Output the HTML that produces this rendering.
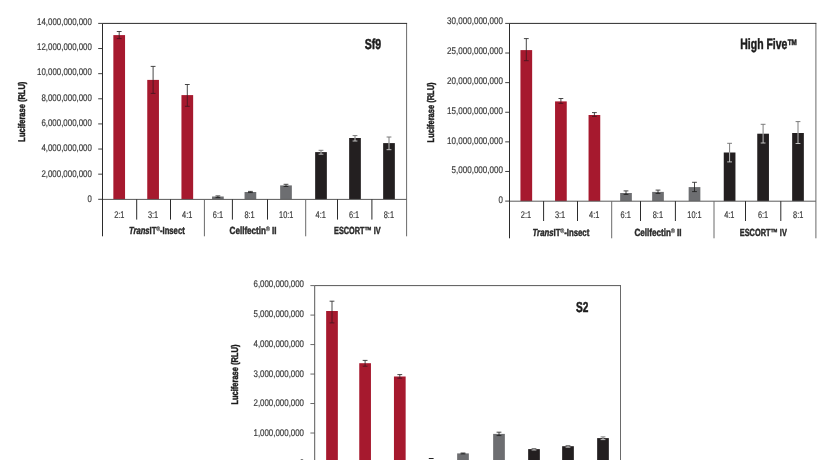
<!DOCTYPE html>
<html><head><meta charset="utf-8"><title>Luciferase charts</title>
<style>html,body{margin:0;padding:0;background:#fff;overflow:hidden}svg{display:block;font-family:"Liberation Sans", sans-serif;text-rendering:geometricPrecision}</style>
</head><body>
<svg width="831" height="460" viewBox="0 0 831 460">
<rect width="831" height="460" fill="#fff"/>
<rect x="113.35" y="35.10" width="11.7" height="164.20" fill="#a6192e"/>
<path d="M119.20 31.50V35.10M116.80 31.50H121.60" stroke="#333" stroke-width="0.9" fill="none"/>
<path d="M119.20 35.10V38.60M116.80 38.60H121.60" stroke="#4a1620" stroke-width="0.9" fill="none"/>
<rect x="147.25" y="79.90" width="11.7" height="119.40" fill="#a6192e"/>
<path d="M153.10 66.40V79.90M150.70 66.40H155.50" stroke="#333" stroke-width="0.9" fill="none"/>
<path d="M153.10 79.90V93.40M150.70 93.40H155.50" stroke="#4a1620" stroke-width="0.9" fill="none"/>
<rect x="181.45" y="95.10" width="11.7" height="104.20" fill="#a6192e"/>
<path d="M187.30 84.50V95.10M184.90 84.50H189.70" stroke="#333" stroke-width="0.9" fill="none"/>
<path d="M187.30 95.10V106.30M184.90 106.30H189.70" stroke="#4a1620" stroke-width="0.9" fill="none"/>
<rect x="212.05" y="196.50" width="11.7" height="2.80" fill="#6d6e71"/>
<path d="M217.90 195.90V196.50M215.50 195.90H220.30" stroke="#333" stroke-width="0.9" fill="none"/>
<path d="M217.90 196.50V197.60M215.50 197.60H220.30" stroke="#222" stroke-width="0.9" fill="none"/>
<rect x="244.55" y="192.00" width="11.7" height="7.30" fill="#6d6e71"/>
<path d="M250.40 191.40V192.00M248.00 191.40H252.80" stroke="#333" stroke-width="0.9" fill="none"/>
<path d="M250.40 192.00V192.60M248.00 192.60H252.80" stroke="#222" stroke-width="0.9" fill="none"/>
<rect x="280.15" y="185.40" width="11.7" height="13.90" fill="#6d6e71"/>
<path d="M286.00 184.30V185.40M283.60 184.30H288.40" stroke="#333" stroke-width="0.9" fill="none"/>
<path d="M286.00 185.40V186.50M283.60 186.50H288.40" stroke="#222" stroke-width="0.9" fill="none"/>
<rect x="315.15" y="152.10" width="11.7" height="47.20" fill="#231f20"/>
<path d="M321.00 150.30V152.10M318.60 150.30H323.40" stroke="#6e6e6e" stroke-width="0.9" fill="none"/>
<path d="M321.00 152.10V154.20M318.60 154.20H323.40" stroke="#d0d0d0" stroke-width="0.9" fill="none"/>
<rect x="349.15" y="138.00" width="11.7" height="61.30" fill="#231f20"/>
<path d="M355.00 135.60V138.00M352.60 135.60H357.40" stroke="#6e6e6e" stroke-width="0.9" fill="none"/>
<path d="M355.00 138.00V141.00M352.60 141.00H357.40" stroke="#d0d0d0" stroke-width="0.9" fill="none"/>
<rect x="383.15" y="143.10" width="11.7" height="56.20" fill="#231f20"/>
<path d="M389.00 137.00V143.10M386.60 137.00H391.40" stroke="#6e6e6e" stroke-width="0.9" fill="none"/>
<path d="M389.00 143.10V149.70M386.60 149.70H391.40" stroke="#d0d0d0" stroke-width="0.9" fill="none"/>
<path d="M406.60 23.40V236.30" stroke="#6a6a6a" stroke-width="1" fill="none"/>
<path d="M102.50 199.40H406.60" stroke="#5a5a5a" stroke-width="1" fill="none"/>
<path d="M407.10 23.40H102.50V236.30" stroke="#2b2b2b" stroke-width="1" fill="none"/>
<path d="M98.20 23.40H102.50" stroke="#2b2b2b" stroke-width="0.9"/>
<text x="91.90" y="24.55" font-size="9.7" text-anchor="end" font-weight="normal" fill="#3c3c3c" stroke="#3c3c3c" stroke-width="0.2" textLength="54.80" lengthAdjust="spacingAndGlyphs">14,000,000,000</text>
<path d="M98.20 48.53H102.50" stroke="#2b2b2b" stroke-width="0.9"/>
<text x="91.90" y="49.88" font-size="9.7" text-anchor="end" font-weight="normal" fill="#3c3c3c" stroke="#3c3c3c" stroke-width="0.2" textLength="54.80" lengthAdjust="spacingAndGlyphs">12,000,000,000</text>
<path d="M98.20 73.66H102.50" stroke="#2b2b2b" stroke-width="0.9"/>
<text x="91.90" y="75.21" font-size="9.7" text-anchor="end" font-weight="normal" fill="#3c3c3c" stroke="#3c3c3c" stroke-width="0.2" textLength="54.80" lengthAdjust="spacingAndGlyphs">10,000,000,000</text>
<path d="M98.20 98.79H102.50" stroke="#2b2b2b" stroke-width="0.9"/>
<text x="91.90" y="100.54" font-size="9.7" text-anchor="end" font-weight="normal" fill="#3c3c3c" stroke="#3c3c3c" stroke-width="0.2" textLength="50.50" lengthAdjust="spacingAndGlyphs">8,000,000,000</text>
<path d="M98.20 123.91H102.50" stroke="#2b2b2b" stroke-width="0.9"/>
<text x="91.90" y="125.87" font-size="9.7" text-anchor="end" font-weight="normal" fill="#3c3c3c" stroke="#3c3c3c" stroke-width="0.2" textLength="50.50" lengthAdjust="spacingAndGlyphs">6,000,000,000</text>
<path d="M98.20 149.04H102.50" stroke="#2b2b2b" stroke-width="0.9"/>
<text x="91.90" y="151.20" font-size="9.7" text-anchor="end" font-weight="normal" fill="#3c3c3c" stroke="#3c3c3c" stroke-width="0.2" textLength="50.50" lengthAdjust="spacingAndGlyphs">4,000,000,000</text>
<path d="M98.20 174.17H102.50" stroke="#2b2b2b" stroke-width="0.9"/>
<text x="91.90" y="176.53" font-size="9.7" text-anchor="end" font-weight="normal" fill="#3c3c3c" stroke="#3c3c3c" stroke-width="0.2" textLength="50.50" lengthAdjust="spacingAndGlyphs">2,000,000,000</text>
<path d="M98.20 199.30H102.50" stroke="#2b2b2b" stroke-width="0.9"/>
<text x="91.90" y="201.86" font-size="9.7" text-anchor="end" font-weight="normal" fill="#3c3c3c" stroke="#3c3c3c" stroke-width="0.2" textLength="4.30" lengthAdjust="spacingAndGlyphs">0</text>
<path d="M136.70 199.30V219.60" stroke="#2b2b2b" stroke-width="1"/>
<path d="M170.50 199.30V219.60" stroke="#2b2b2b" stroke-width="1"/>
<path d="M204.40 199.30V236.30" stroke="#6a6a6a" stroke-width="1"/>
<path d="M232.40 199.30V219.60" stroke="#2b2b2b" stroke-width="1"/>
<path d="M267.50 199.30V219.60" stroke="#2b2b2b" stroke-width="1"/>
<path d="M305.70 199.30V236.30" stroke="#6a6a6a" stroke-width="1"/>
<path d="M337.50 199.30V219.60" stroke="#2b2b2b" stroke-width="1"/>
<path d="M371.90 199.30V219.60" stroke="#2b2b2b" stroke-width="1"/>
<text x="119.30" y="218.00" font-size="9.7" text-anchor="middle" font-weight="normal" fill="#3c3c3c" stroke="#3c3c3c" stroke-width="0.2" textLength="10.3" lengthAdjust="spacingAndGlyphs">2:1</text>
<text x="153.10" y="218.00" font-size="9.7" text-anchor="middle" font-weight="normal" fill="#3c3c3c" stroke="#3c3c3c" stroke-width="0.2" textLength="10.3" lengthAdjust="spacingAndGlyphs">3:1</text>
<text x="187.20" y="218.00" font-size="9.7" text-anchor="middle" font-weight="normal" fill="#3c3c3c" stroke="#3c3c3c" stroke-width="0.2" textLength="10.3" lengthAdjust="spacingAndGlyphs">4:1</text>
<text x="218.00" y="218.00" font-size="9.7" text-anchor="middle" font-weight="normal" fill="#3c3c3c" stroke="#3c3c3c" stroke-width="0.2" textLength="10.3" lengthAdjust="spacingAndGlyphs">6:1</text>
<text x="249.60" y="218.00" font-size="9.7" text-anchor="middle" font-weight="normal" fill="#3c3c3c" stroke="#3c3c3c" stroke-width="0.2" textLength="10.3" lengthAdjust="spacingAndGlyphs">8:1</text>
<text x="286.20" y="218.00" font-size="9.7" text-anchor="middle" font-weight="normal" fill="#3c3c3c" stroke="#3c3c3c" stroke-width="0.2" textLength="14.3" lengthAdjust="spacingAndGlyphs">10:1</text>
<text x="320.70" y="218.00" font-size="9.7" text-anchor="middle" font-weight="normal" fill="#3c3c3c" stroke="#3c3c3c" stroke-width="0.2" textLength="10.3" lengthAdjust="spacingAndGlyphs">4:1</text>
<text x="354.10" y="218.00" font-size="9.7" text-anchor="middle" font-weight="normal" fill="#3c3c3c" stroke="#3c3c3c" stroke-width="0.2" textLength="10.3" lengthAdjust="spacingAndGlyphs">6:1</text>
<text x="388.90" y="218.00" font-size="9.7" text-anchor="middle" font-weight="normal" fill="#3c3c3c" stroke="#3c3c3c" stroke-width="0.2" textLength="10.3" lengthAdjust="spacingAndGlyphs">8:1</text>
<text x="128.90" y="233.50" font-size="10.3" font-weight="bold" fill="#2a2a2a" stroke="#2a2a2a" stroke-width="0.45" lengthAdjust="spacingAndGlyphs" textLength="55.80"><tspan font-style="italic">Trans</tspan>IT<tspan font-size="6.5" dy="-3" font-weight="normal" fill="#3a3a3a" stroke="#3a3a3a" stroke-width="0.25">®</tspan><tspan dy="3">-Insect</tspan></text>
<text x="229.60" y="233.50" font-size="10.3" font-weight="bold" fill="#2a2a2a" stroke="#2a2a2a" stroke-width="0.45" lengthAdjust="spacingAndGlyphs" textLength="46.90">Cellfectin<tspan font-size="6.5" dy="-3" font-weight="normal" fill="#3a3a3a" stroke="#3a3a3a" stroke-width="0.25">®</tspan><tspan dy="3"> II</tspan></text>
<text x="334.10" y="233.50" font-size="10.3" font-weight="bold" fill="#2a2a2a" stroke="#2a2a2a" stroke-width="0.45" lengthAdjust="spacingAndGlyphs" textLength="46.60">ESCORT™ IV</text>
<text transform="translate(25.20 111.70) rotate(-90)" font-size="9.7" text-anchor="middle" font-weight="bold" fill="#1c1c1c" stroke="#1c1c1c" stroke-width="0.45" textLength="60" lengthAdjust="spacingAndGlyphs">Luciferase (RLU)</text>
<text x="364.8" y="49.4" font-size="14.5" font-weight="bold" fill="#1c1c1c" stroke="#1c1c1c" stroke-width="0.5" lengthAdjust="spacingAndGlyphs" textLength="16.4">Sf9</text>
<rect x="520.45" y="50.10" width="11.7" height="151.00" fill="#a6192e"/>
<path d="M526.30 38.60V50.10M523.90 38.60H528.70" stroke="#333" stroke-width="0.9" fill="none"/>
<path d="M526.30 50.10V60.70M523.90 60.70H528.70" stroke="#4a1620" stroke-width="0.9" fill="none"/>
<rect x="555.05" y="101.40" width="11.7" height="99.70" fill="#a6192e"/>
<path d="M560.90 98.50V101.40M558.50 98.50H563.30" stroke="#333" stroke-width="0.9" fill="none"/>
<path d="M560.90 101.40V103.40M558.50 103.40H563.30" stroke="#4a1620" stroke-width="0.9" fill="none"/>
<rect x="588.55" y="115.00" width="11.7" height="86.10" fill="#a6192e"/>
<path d="M594.40 112.60V115.00M592.00 112.60H596.80" stroke="#333" stroke-width="0.9" fill="none"/>
<path d="M594.40 115.00V116.40M592.00 116.40H596.80" stroke="#4a1620" stroke-width="0.9" fill="none"/>
<rect x="620.15" y="193.00" width="11.7" height="8.10" fill="#6d6e71"/>
<path d="M626.00 190.90V193.00M623.60 190.90H628.40" stroke="#333" stroke-width="0.9" fill="none"/>
<path d="M626.00 193.00V194.40M623.60 194.40H628.40" stroke="#222" stroke-width="0.9" fill="none"/>
<rect x="652.15" y="191.90" width="11.7" height="9.20" fill="#6d6e71"/>
<path d="M658.00 190.10V191.90M655.60 190.10H660.40" stroke="#333" stroke-width="0.9" fill="none"/>
<path d="M658.00 191.90V193.40M655.60 193.40H660.40" stroke="#222" stroke-width="0.9" fill="none"/>
<rect x="688.65" y="187.10" width="11.7" height="14.00" fill="#6d6e71"/>
<path d="M694.50 182.30V187.10M692.10 182.30H696.90" stroke="#333" stroke-width="0.9" fill="none"/>
<path d="M694.50 187.10V191.60M692.10 191.60H696.90" stroke="#222" stroke-width="0.9" fill="none"/>
<rect x="723.75" y="152.50" width="11.7" height="48.60" fill="#231f20"/>
<path d="M729.60 143.30V152.50M727.20 143.30H732.00" stroke="#6e6e6e" stroke-width="0.9" fill="none"/>
<path d="M729.60 152.50V161.90M727.20 161.90H732.00" stroke="#d0d0d0" stroke-width="0.9" fill="none"/>
<rect x="757.25" y="133.70" width="11.7" height="67.40" fill="#231f20"/>
<path d="M763.10 124.30V133.70M760.70 124.30H765.50" stroke="#6e6e6e" stroke-width="0.9" fill="none"/>
<path d="M763.10 133.70V143.00M760.70 143.00H765.50" stroke="#d0d0d0" stroke-width="0.9" fill="none"/>
<rect x="792.15" y="133.00" width="11.7" height="68.10" fill="#231f20"/>
<path d="M798.00 121.60V133.00M795.60 121.60H800.40" stroke="#6e6e6e" stroke-width="0.9" fill="none"/>
<path d="M798.00 133.00V143.50M795.60 143.50H800.40" stroke="#d0d0d0" stroke-width="0.9" fill="none"/>
<path d="M815.90 23.40V238.30" stroke="#6a6a6a" stroke-width="1" fill="none"/>
<path d="M509.50 201.20H815.90" stroke="#5a5a5a" stroke-width="1" fill="none"/>
<path d="M816.40 23.40H509.50V238.30" stroke="#2b2b2b" stroke-width="1" fill="none"/>
<path d="M505.20 23.40H509.50" stroke="#2b2b2b" stroke-width="0.9"/>
<text x="503.00" y="24.45" font-size="9.7" text-anchor="end" font-weight="normal" fill="#3c3c3c" stroke="#3c3c3c" stroke-width="0.2" textLength="55.90" lengthAdjust="spacingAndGlyphs">30,000,000,000</text>
<path d="M505.20 53.02H509.50" stroke="#2b2b2b" stroke-width="0.9"/>
<text x="503.00" y="54.22" font-size="9.7" text-anchor="end" font-weight="normal" fill="#3c3c3c" stroke="#3c3c3c" stroke-width="0.2" textLength="55.90" lengthAdjust="spacingAndGlyphs">25,000,000,000</text>
<path d="M505.20 82.63H509.50" stroke="#2b2b2b" stroke-width="0.9"/>
<text x="503.00" y="83.99" font-size="9.7" text-anchor="end" font-weight="normal" fill="#3c3c3c" stroke="#3c3c3c" stroke-width="0.2" textLength="55.90" lengthAdjust="spacingAndGlyphs">20,000,000,000</text>
<path d="M505.20 112.25H509.50" stroke="#2b2b2b" stroke-width="0.9"/>
<text x="503.00" y="113.76" font-size="9.7" text-anchor="end" font-weight="normal" fill="#3c3c3c" stroke="#3c3c3c" stroke-width="0.2" textLength="55.90" lengthAdjust="spacingAndGlyphs">15,000,000,000</text>
<path d="M505.20 141.87H509.50" stroke="#2b2b2b" stroke-width="0.9"/>
<text x="503.00" y="143.53" font-size="9.7" text-anchor="end" font-weight="normal" fill="#3c3c3c" stroke="#3c3c3c" stroke-width="0.2" textLength="55.90" lengthAdjust="spacingAndGlyphs">10,000,000,000</text>
<path d="M505.20 171.48H509.50" stroke="#2b2b2b" stroke-width="0.9"/>
<text x="503.00" y="173.30" font-size="9.7" text-anchor="end" font-weight="normal" fill="#3c3c3c" stroke="#3c3c3c" stroke-width="0.2" textLength="51.50" lengthAdjust="spacingAndGlyphs">5,000,000,000</text>
<path d="M505.20 201.10H509.50" stroke="#2b2b2b" stroke-width="0.9"/>
<text x="503.00" y="203.07" font-size="9.7" text-anchor="end" font-weight="normal" fill="#3c3c3c" stroke="#3c3c3c" stroke-width="0.2" textLength="4.40" lengthAdjust="spacingAndGlyphs">0</text>
<path d="M543.60 201.10V221.00" stroke="#2b2b2b" stroke-width="1"/>
<path d="M577.50 201.10V221.00" stroke="#2b2b2b" stroke-width="1"/>
<path d="M611.70 201.10V238.30" stroke="#6a6a6a" stroke-width="1"/>
<path d="M640.50 201.10V221.00" stroke="#2b2b2b" stroke-width="1"/>
<path d="M675.40 201.10V221.00" stroke="#2b2b2b" stroke-width="1"/>
<path d="M714.00 201.10V238.30" stroke="#6a6a6a" stroke-width="1"/>
<path d="M745.50 201.10V221.00" stroke="#2b2b2b" stroke-width="1"/>
<path d="M780.80 201.10V221.00" stroke="#2b2b2b" stroke-width="1"/>
<text x="526.00" y="218.20" font-size="9.7" text-anchor="middle" font-weight="normal" fill="#3c3c3c" stroke="#3c3c3c" stroke-width="0.2" textLength="10.3" lengthAdjust="spacingAndGlyphs">2:1</text>
<text x="560.10" y="218.20" font-size="9.7" text-anchor="middle" font-weight="normal" fill="#3c3c3c" stroke="#3c3c3c" stroke-width="0.2" textLength="10.3" lengthAdjust="spacingAndGlyphs">3:1</text>
<text x="594.20" y="218.20" font-size="9.7" text-anchor="middle" font-weight="normal" fill="#3c3c3c" stroke="#3c3c3c" stroke-width="0.2" textLength="10.3" lengthAdjust="spacingAndGlyphs">4:1</text>
<text x="625.70" y="218.20" font-size="9.7" text-anchor="middle" font-weight="normal" fill="#3c3c3c" stroke="#3c3c3c" stroke-width="0.2" textLength="10.3" lengthAdjust="spacingAndGlyphs">6:1</text>
<text x="657.90" y="218.20" font-size="9.7" text-anchor="middle" font-weight="normal" fill="#3c3c3c" stroke="#3c3c3c" stroke-width="0.2" textLength="10.3" lengthAdjust="spacingAndGlyphs">8:1</text>
<text x="694.50" y="218.20" font-size="9.7" text-anchor="middle" font-weight="normal" fill="#3c3c3c" stroke="#3c3c3c" stroke-width="0.2" textLength="14.3" lengthAdjust="spacingAndGlyphs">10:1</text>
<text x="729.30" y="218.20" font-size="9.7" text-anchor="middle" font-weight="normal" fill="#3c3c3c" stroke="#3c3c3c" stroke-width="0.2" textLength="10.3" lengthAdjust="spacingAndGlyphs">4:1</text>
<text x="763.10" y="218.20" font-size="9.7" text-anchor="middle" font-weight="normal" fill="#3c3c3c" stroke="#3c3c3c" stroke-width="0.2" textLength="10.3" lengthAdjust="spacingAndGlyphs">6:1</text>
<text x="798.20" y="218.20" font-size="9.7" text-anchor="middle" font-weight="normal" fill="#3c3c3c" stroke="#3c3c3c" stroke-width="0.2" textLength="10.3" lengthAdjust="spacingAndGlyphs">8:1</text>
<text x="532.50" y="236.00" font-size="10.3" font-weight="bold" fill="#2a2a2a" stroke="#2a2a2a" stroke-width="0.45" lengthAdjust="spacingAndGlyphs" textLength="56.80"><tspan font-style="italic">Trans</tspan>IT<tspan font-size="6.5" dy="-3" font-weight="normal" fill="#3a3a3a" stroke="#3a3a3a" stroke-width="0.25">®</tspan><tspan dy="3">-Insect</tspan></text>
<text x="634.40" y="236.00" font-size="10.3" font-weight="bold" fill="#2a2a2a" stroke="#2a2a2a" stroke-width="0.45" lengthAdjust="spacingAndGlyphs" textLength="47.10">Cellfectin<tspan font-size="6.5" dy="-3" font-weight="normal" fill="#3a3a3a" stroke="#3a3a3a" stroke-width="0.25">®</tspan><tspan dy="3"> II</tspan></text>
<text x="739.80" y="236.00" font-size="10.3" font-weight="bold" fill="#2a2a2a" stroke="#2a2a2a" stroke-width="0.45" lengthAdjust="spacingAndGlyphs" textLength="47.00">ESCORT™ IV</text>
<text transform="translate(433.90 112.40) rotate(-90)" font-size="9.7" text-anchor="middle" font-weight="bold" fill="#1c1c1c" stroke="#1c1c1c" stroke-width="0.45" textLength="60" lengthAdjust="spacingAndGlyphs">Luciferase (RLU)</text>
<text x="740.3" y="49.3" font-size="15" font-weight="bold" fill="#1c1c1c" stroke="#1c1c1c" stroke-width="0.5" lengthAdjust="spacingAndGlyphs" textLength="47.1">High Five</text><text x="787.8" y="45.1" font-size="8" font-weight="bold" fill="#1c1c1c" stroke="#1c1c1c" stroke-width="0.5" lengthAdjust="spacingAndGlyphs" textLength="9">TM</text>
<rect x="326.15" y="311.00" width="11.7" height="151.50" fill="#a6192e"/>
<path d="M332.00 301.20V311.00M329.60 301.20H334.40" stroke="#333" stroke-width="0.9" fill="none"/>
<path d="M332.00 311.00V322.90M329.60 322.90H334.40" stroke="#4a1620" stroke-width="0.9" fill="none"/>
<rect x="359.25" y="363.20" width="11.7" height="99.30" fill="#a6192e"/>
<path d="M365.10 360.40V363.20M362.70 360.40H367.50" stroke="#333" stroke-width="0.9" fill="none"/>
<path d="M365.10 363.20V366.20M362.70 366.20H367.50" stroke="#4a1620" stroke-width="0.9" fill="none"/>
<rect x="393.95" y="376.50" width="11.7" height="86.00" fill="#a6192e"/>
<path d="M399.80 374.60V376.50M397.40 374.60H402.20" stroke="#333" stroke-width="0.9" fill="none"/>
<path d="M399.80 376.50V378.20M397.40 378.20H402.20" stroke="#4a1620" stroke-width="0.9" fill="none"/>
<rect x="425.35" y="461.00" width="11.7" height="1.50" fill="#6d6e71"/>
<path d="M428.80 458.50H433.60" stroke="#222" stroke-width="1" fill="none"/>
<rect x="457.15" y="453.40" width="11.7" height="9.10" fill="#6d6e71"/>
<path d="M463.00 453.00V453.40M460.60 453.00H465.40" stroke="#333" stroke-width="0.9" fill="none"/>
<path d="M463.00 453.40V453.90M460.60 453.90H465.40" stroke="#222" stroke-width="0.9" fill="none"/>
<rect x="493.15" y="433.90" width="11.7" height="28.60" fill="#6d6e71"/>
<path d="M499.00 432.20V433.90M496.60 432.20H501.40" stroke="#333" stroke-width="0.9" fill="none"/>
<path d="M499.00 433.90V435.60M496.60 435.60H501.40" stroke="#222" stroke-width="0.9" fill="none"/>
<rect x="528.15" y="449.10" width="11.7" height="13.40" fill="#231f20"/>
<path d="M534.00 448.50V449.10M531.60 448.50H536.40" stroke="#6e6e6e" stroke-width="0.9" fill="none"/>
<path d="M534.00 449.10V450.00M531.60 450.00H536.40" stroke="#d0d0d0" stroke-width="0.9" fill="none"/>
<rect x="562.15" y="446.20" width="11.7" height="16.30" fill="#231f20"/>
<path d="M568.00 445.50V446.20M565.60 445.50H570.40" stroke="#6e6e6e" stroke-width="0.9" fill="none"/>
<path d="M568.00 446.20V447.20M565.60 447.20H570.40" stroke="#d0d0d0" stroke-width="0.9" fill="none"/>
<rect x="597.15" y="438.10" width="11.7" height="24.40" fill="#231f20"/>
<path d="M603.00 436.90V438.10M600.60 436.90H605.40" stroke="#6e6e6e" stroke-width="0.9" fill="none"/>
<path d="M603.00 438.10V439.60M600.60 439.60H605.40" stroke="#d0d0d0" stroke-width="0.9" fill="none"/>
<path d="M620.50 285.60V500.00" stroke="#6a6a6a" stroke-width="1" fill="none"/>
<path d="M314.70 462.60H620.50" stroke="#5a5a5a" stroke-width="1" fill="none"/>
<path d="M621.00 285.60H314.70V500.00" stroke="#585858" stroke-width="1" fill="none"/>
<path d="M310.40 285.60H314.70" stroke="#585858" stroke-width="0.9"/>
<text x="304.00" y="287.00" font-size="9.7" text-anchor="end" font-weight="normal" fill="#3c3c3c" stroke="#3c3c3c" stroke-width="0.2" textLength="50.50" lengthAdjust="spacingAndGlyphs">6,000,000,000</text>
<path d="M310.40 315.08H314.70" stroke="#585858" stroke-width="0.9"/>
<text x="304.00" y="316.85" font-size="9.7" text-anchor="end" font-weight="normal" fill="#3c3c3c" stroke="#3c3c3c" stroke-width="0.2" textLength="50.50" lengthAdjust="spacingAndGlyphs">5,000,000,000</text>
<path d="M310.40 344.57H314.70" stroke="#585858" stroke-width="0.9"/>
<text x="304.00" y="346.70" font-size="9.7" text-anchor="end" font-weight="normal" fill="#3c3c3c" stroke="#3c3c3c" stroke-width="0.2" textLength="50.50" lengthAdjust="spacingAndGlyphs">4,000,000,000</text>
<path d="M310.40 374.05H314.70" stroke="#585858" stroke-width="0.9"/>
<text x="304.00" y="376.55" font-size="9.7" text-anchor="end" font-weight="normal" fill="#3c3c3c" stroke="#3c3c3c" stroke-width="0.2" textLength="50.50" lengthAdjust="spacingAndGlyphs">3,000,000,000</text>
<path d="M310.40 403.53H314.70" stroke="#585858" stroke-width="0.9"/>
<text x="304.00" y="406.40" font-size="9.7" text-anchor="end" font-weight="normal" fill="#3c3c3c" stroke="#3c3c3c" stroke-width="0.2" textLength="50.50" lengthAdjust="spacingAndGlyphs">2,000,000,000</text>
<path d="M310.40 433.02H314.70" stroke="#585858" stroke-width="0.9"/>
<text x="304.00" y="436.25" font-size="9.7" text-anchor="end" font-weight="normal" fill="#3c3c3c" stroke="#3c3c3c" stroke-width="0.2" textLength="50.50" lengthAdjust="spacingAndGlyphs">1,000,000,000</text>
<path d="M310.40 462.50H314.70" stroke="#585858" stroke-width="0.9"/>
<text x="304.00" y="466.10" font-size="9.7" text-anchor="end" font-weight="normal" fill="#3c3c3c" stroke="#3c3c3c" stroke-width="0.2" textLength="4.30" lengthAdjust="spacingAndGlyphs">0</text>
<path d="M348.30 462.50V483.00" stroke="#585858" stroke-width="1"/>
<path d="M382.20 462.50V483.00" stroke="#585858" stroke-width="1"/>
<path d="M416.40 462.50V500.00" stroke="#6a6a6a" stroke-width="1"/>
<path d="M445.20 462.50V483.00" stroke="#585858" stroke-width="1"/>
<path d="M480.10 462.50V483.00" stroke="#585858" stroke-width="1"/>
<path d="M518.70 462.50V500.00" stroke="#6a6a6a" stroke-width="1"/>
<path d="M550.20 462.50V483.00" stroke="#585858" stroke-width="1"/>
<path d="M585.50 462.50V483.00" stroke="#585858" stroke-width="1"/>
<text x="331.00" y="481.00" font-size="9.7" text-anchor="middle" font-weight="normal" fill="#3c3c3c" stroke="#3c3c3c" stroke-width="0.2" textLength="10.3" lengthAdjust="spacingAndGlyphs">2:1</text>
<text x="365.00" y="481.00" font-size="9.7" text-anchor="middle" font-weight="normal" fill="#3c3c3c" stroke="#3c3c3c" stroke-width="0.2" textLength="10.3" lengthAdjust="spacingAndGlyphs">3:1</text>
<text x="399.00" y="481.00" font-size="9.7" text-anchor="middle" font-weight="normal" fill="#3c3c3c" stroke="#3c3c3c" stroke-width="0.2" textLength="10.3" lengthAdjust="spacingAndGlyphs">4:1</text>
<text x="430.00" y="481.00" font-size="9.7" text-anchor="middle" font-weight="normal" fill="#3c3c3c" stroke="#3c3c3c" stroke-width="0.2" textLength="10.3" lengthAdjust="spacingAndGlyphs">6:1</text>
<text x="462.00" y="481.00" font-size="9.7" text-anchor="middle" font-weight="normal" fill="#3c3c3c" stroke="#3c3c3c" stroke-width="0.2" textLength="10.3" lengthAdjust="spacingAndGlyphs">8:1</text>
<text x="499.00" y="481.00" font-size="9.7" text-anchor="middle" font-weight="normal" fill="#3c3c3c" stroke="#3c3c3c" stroke-width="0.2" textLength="14.3" lengthAdjust="spacingAndGlyphs">10:1</text>
<text x="534.00" y="481.00" font-size="9.7" text-anchor="middle" font-weight="normal" fill="#3c3c3c" stroke="#3c3c3c" stroke-width="0.2" textLength="10.3" lengthAdjust="spacingAndGlyphs">4:1</text>
<text x="568.00" y="481.00" font-size="9.7" text-anchor="middle" font-weight="normal" fill="#3c3c3c" stroke="#3c3c3c" stroke-width="0.2" textLength="10.3" lengthAdjust="spacingAndGlyphs">6:1</text>
<text x="603.00" y="481.00" font-size="9.7" text-anchor="middle" font-weight="normal" fill="#3c3c3c" stroke="#3c3c3c" stroke-width="0.2" textLength="10.3" lengthAdjust="spacingAndGlyphs">8:1</text>
<text x="337.00" y="497.00" font-size="10.3" font-weight="bold" fill="#2a2a2a" stroke="#2a2a2a" stroke-width="0.45" lengthAdjust="spacingAndGlyphs" textLength="57.00"><tspan font-style="italic">Trans</tspan>IT<tspan font-size="6.5" dy="-3" font-weight="normal" fill="#3a3a3a" stroke="#3a3a3a" stroke-width="0.25">®</tspan><tspan dy="3">-Insect</tspan></text>
<text x="439.00" y="497.00" font-size="10.3" font-weight="bold" fill="#2a2a2a" stroke="#2a2a2a" stroke-width="0.45" lengthAdjust="spacingAndGlyphs" textLength="47.00">Cellfectin<tspan font-size="6.5" dy="-3" font-weight="normal" fill="#3a3a3a" stroke="#3a3a3a" stroke-width="0.25">®</tspan><tspan dy="3"> II</tspan></text>
<text x="544.00" y="497.00" font-size="10.3" font-weight="bold" fill="#2a2a2a" stroke="#2a2a2a" stroke-width="0.45" lengthAdjust="spacingAndGlyphs" textLength="47.00">ESCORT™ IV</text>
<text transform="translate(237.60 374.60) rotate(-90)" font-size="9.7" text-anchor="middle" font-weight="bold" fill="#1c1c1c" stroke="#1c1c1c" stroke-width="0.45" textLength="60" lengthAdjust="spacingAndGlyphs">Luciferase (RLU)</text>
<text x="575.9" y="311.9" font-size="14.5" font-weight="bold" fill="#1c1c1c" stroke="#1c1c1c" stroke-width="0.5" lengthAdjust="spacingAndGlyphs" textLength="12.4">S2</text>
</svg>
</body></html>
